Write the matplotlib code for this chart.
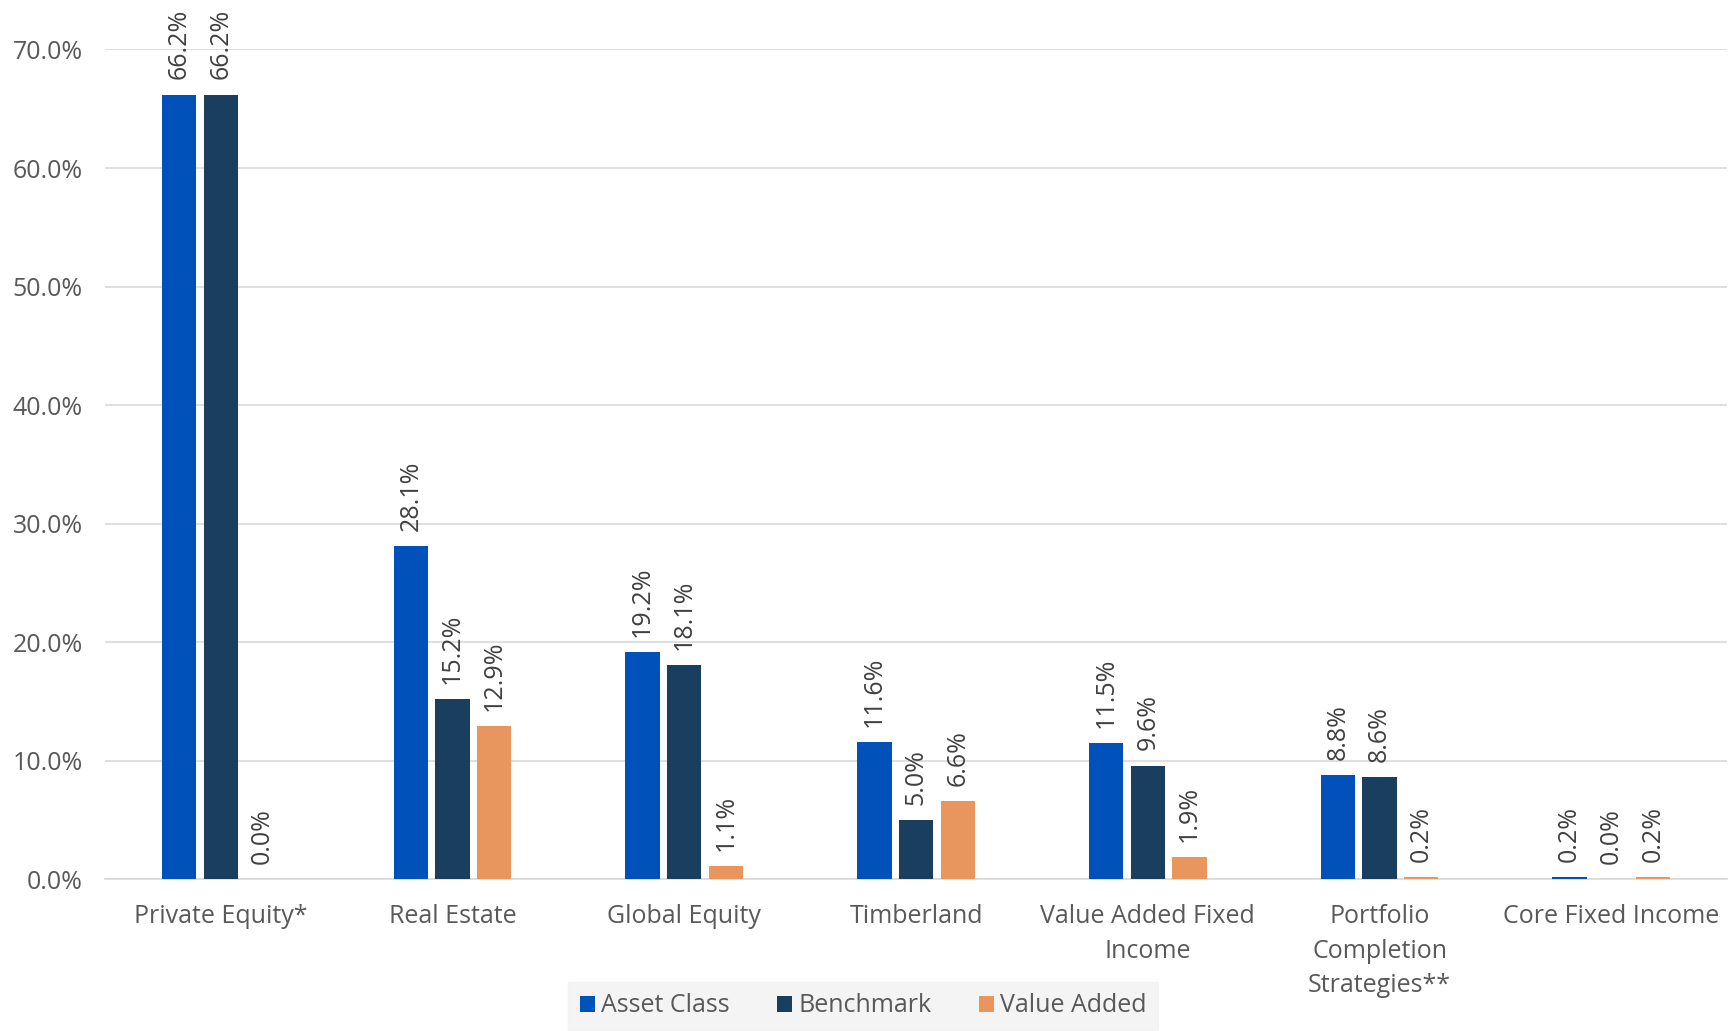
import numpy as np
import matplotlib.pyplot as plt
from matplotlib.ticker import FuncFormatter

categories = ["Private Equity*", "Real Estate", "Global Equity", "Timberland",
              "Value Added Fixed\nIncome", "Portfolio\nCompletion\nStrategies**",
              "Core Fixed Income"]
asset_class = [66.2, 28.1, 19.2, 11.6, 11.5, 8.8, 0.2]
benchmark = [66.2, 15.2, 18.1, 5.0, 9.6, 8.6, 0.04]
value_added = [0.04, 12.9, 1.1, 6.6, 1.9, 0.2, 0.2]
series_names = ["Asset Class", "Benchmark", "Value Added"]
colors = ["#0051BA", "#1A3E5E", "#E8955E"]

plt.rcParams['font.family'] = ['Open Sans', 'DejaVu Sans']

fig = plt.figure(figsize=(17.35, 10.31), dpi=100)
ax = fig.add_axes([0.0605, 0.147, 0.935, 0.805])

x = np.arange(len(categories))
step = 0.18
for i, (vals, name, c) in enumerate(zip([asset_class, benchmark, value_added], series_names, colors)):
    bars = ax.bar(x + (i - 1) * step, vals, width=0.148, color=c, linewidth=0,
                  label=name, zorder=3)
    for b, v in zip(bars, vals):
        ax.annotate(f"{v:.1f}%", (b.get_x() + b.get_width() / 2, b.get_height()),
                    xytext=(0, 11), textcoords="offset points", rotation=90,
                    ha="center", va="bottom", fontsize=18, color="#404040")

ax.set_xlim(-0.5, len(categories) - 0.5)
ax.set_ylim(0, 70)
ax.set_yticks(np.arange(0, 71, 10))
ax.yaxis.set_major_formatter(FuncFormatter(lambda v, p: f"{v:.1f}%"))
ax.grid(axis="y", color="#D9D9D9", linewidth=1.2, zorder=0)
ax.set_xticks(x)
ax.set_xticklabels(categories, linespacing=1.5)
for s in ["top", "right", "left"]:
    ax.spines[s].set_visible(False)
ax.spines["bottom"].set_color("#D9D9D9")
ax.spines["bottom"].set_linewidth(1.2)
ax.tick_params(axis="both", length=0, labelsize=18, colors="#595959")
ax.tick_params(axis="x", pad=18)
ax.tick_params(axis="y", pad=16)

leg = fig.legend(loc="lower center", bbox_to_anchor=(0.4975, 0.0), ncol=3, frameon=True,
                 fontsize=18, handlelength=0.6, handleheight=0.6, handletextpad=0.25,
                 columnspacing=1.9, borderpad=0.45, borderaxespad=0.05, fancybox=False)
leg.get_frame().set_facecolor("#F2F2F2")
leg.get_frame().set_edgecolor("#F2F2F2")
for t in leg.get_texts():
    t.set_color("#595959")

fig.savefig("out.png", dpi=100)
